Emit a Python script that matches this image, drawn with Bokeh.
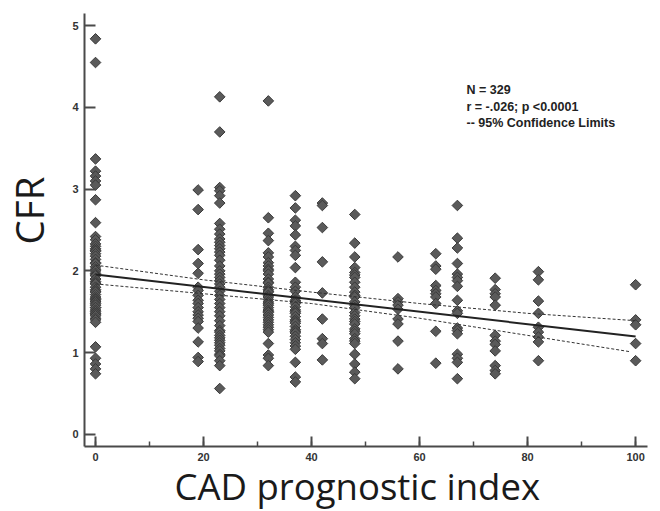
import math
from bokeh.plotting import figure
from bokeh.models import Range1d, SingleIntervalTicker, Label, ColumnDataSource, Title
from bokeh.embed import file_html
from bokeh.resources import INLINE

# ---- data ----
col_x = [0, 19, 23, 32, 37, 42, 48, 56, 63, 67, 74, 82, 100]
cfr_0 = [4.84, 4.55, 3.37, 3.22, 3.16, 3.10, 3.05, 2.87, 2.59, 2.42, 2.38, 2.33, 2.30, 2.27,
         2.25, 2.24, 2.21, 2.18, 2.14, 2.10, 2.09, 2.05, 2.02, 2.00, 1.97, 1.95, 1.94, 1.90,
         1.90, 1.87, 1.85, 1.84, 1.80, 1.77, 1.75, 1.74, 1.71, 1.68, 1.66, 1.65, 1.63, 1.62,
         1.60, 1.58, 1.55, 1.55, 1.52, 1.50, 1.48, 1.47, 1.45, 1.42, 1.40, 1.37, 1.07, 0.93,
         0.86, 0.80, 0.74]
cfr_19 = [2.99, 2.75, 2.26, 2.09, 1.97, 1.80, 1.76, 1.70, 1.64, 1.60, 1.55, 1.50, 1.46,
          1.42, 1.38, 1.30, 1.13, 0.94, 0.89]
cfr_23 = [4.13, 3.70, 3.02, 2.98, 2.92, 2.83, 2.58, 2.51, 2.45, 2.39, 2.35, 2.31, 2.27, 2.23,
          2.19, 2.13, 2.06, 2.00, 1.96, 1.92, 1.88, 1.84, 1.80, 1.75, 1.70, 1.65, 1.60, 1.55,
          1.50, 1.45, 1.39, 1.33, 1.27, 1.25, 1.21, 1.18, 1.15, 1.12, 1.09, 1.05, 1.02, 0.98,
          0.96, 0.90, 0.84, 0.56]
cfr_32 = [4.08, 2.65, 2.46, 2.37, 2.22, 2.17, 2.10, 2.06, 2.02, 2.00, 1.96, 1.90, 1.86, 1.85,
          1.80, 1.77, 1.75, 1.74, 1.70, 1.68, 1.65, 1.62, 1.60, 1.58, 1.55, 1.52, 1.50, 1.49,
          1.46, 1.43, 1.40, 1.37, 1.34, 1.31, 1.28, 1.25, 1.11, 0.97, 0.93, 0.84]
cfr_37 = [2.92, 2.77, 2.62, 2.55, 2.44, 2.30, 2.25, 2.19, 2.04, 1.86, 1.80, 1.75, 1.68, 1.64,
          1.62, 1.60, 1.56, 1.52, 1.50, 1.48, 1.44, 1.40, 1.38, 1.36, 1.32, 1.28, 1.26, 1.24,
          1.20, 1.16, 1.12, 1.08, 1.04, 0.88, 0.70, 0.64]
cfr_42 = [2.83, 2.80, 2.53, 2.11, 1.73, 1.41, 1.17, 1.11, 0.91]
cfr_48 = [2.69, 2.34, 2.17, 2.04, 1.98, 1.95, 1.92, 1.86, 1.80, 1.74, 1.70, 1.68, 1.62, 1.58,
          1.55, 1.49, 1.45, 1.41, 1.38, 1.35, 1.29, 1.26, 1.23, 1.17, 1.14, 1.11, 0.98, 0.86,
          0.76, 0.68]
cfr_56 = [2.17, 1.66, 1.62, 1.58, 1.53, 1.41, 1.35, 1.14, 0.80]
cfr_63 = [2.21, 2.06, 2.02, 1.82, 1.76, 1.72, 1.68, 1.60, 1.26, 0.87]
cfr_67 = [2.80, 2.40, 2.28, 2.09, 1.96, 1.92, 1.88, 1.81, 1.64, 1.51, 1.48, 1.30, 1.27, 1.23,
          0.98, 0.93, 0.88, 0.68]
cfr_74 = [1.91, 1.77, 1.72, 1.68, 1.58, 1.21, 1.14, 1.10, 1.02, 0.84, 0.78, 0.74]
cfr_82 = [1.99, 1.89, 1.63, 1.48, 1.31, 1.25, 1.19, 1.13, 0.90]
cfr_100 = [1.83, 1.40, 1.34, 1.11, 0.90]
columns = [cfr_0, cfr_19, cfr_23, cfr_32, cfr_37, cfr_42, cfr_48, cfr_56, cfr_63,
           cfr_67, cfr_74, cfr_82, cfr_100]

fit_x = [0, 100]
fit_y = [1.955, 1.196]
ci_upper_x = [0, 20, 40, 60, 80, 100]
ci_upper_y = [2.07, 1.89, 1.74, 1.60, 1.48, 1.39]
ci_lower_x = [0, 20, 40, 60, 80, 99]
ci_lower_y = [1.84, 1.72, 1.60, 1.42, 1.21, 1.01]

x_ticks_interval = 20
y_ticks_interval = 1
stats_lines = ["N = 329", "r = -.026; p <0.0001", "-- 95% Confidence Limits"]
x_title = "CAD prognostic index"
y_title = "CFR"

# ---- build points ----
px, py = [], []
for xv, vals in zip(col_x, columns):
    for v in vals:
        px.append(xv)
        py.append(v)
src = ColumnDataSource(dict(x=px, y=py))

p = figure(width=660, height=511, output_backend="svg", toolbar_location=None,
           x_range=Range1d(-2.04, 102.2), y_range=Range1d(-0.15, 5.15),
           min_border_left=84, min_border_right=13, min_border_top=13, min_border_bottom=65)
p.grid.visible = False
p.outline_line_color = None
p.background_fill_color = "white"
p.border_fill_color = "white"

AX = "#4a4a4a"
for ax in (p.xaxis[0], p.yaxis[0]):
    ax.axis_line_color = AX
    ax.axis_line_width = 2
    ax.major_tick_line_color = AX
    ax.major_tick_line_width = 2
    ax.minor_tick_line_color = AX
    ax.minor_tick_line_width = 1.5
    ax.major_tick_out = 0
    ax.minor_tick_out = 0
    ax.major_label_text_font = "Liberation Sans"
    ax.major_label_text_font_style = "bold"
    ax.major_label_text_font_size = "11px"
    ax.major_label_text_color = "#333333"

p.xaxis.ticker = SingleIntervalTicker(interval=x_ticks_interval, num_minor_ticks=2)
p.xaxis.major_tick_in = 10
p.xaxis.minor_tick_in = 5
p.xaxis.major_label_standoff = 6
p.yaxis.ticker = SingleIntervalTicker(interval=y_ticks_interval, num_minor_ticks=0)
p.yaxis.major_tick_in = 11
p.yaxis.major_label_standoff = 6

p.scatter("x", "y", source=src, marker="square", size=7.5, angle=math.pi / 4,
          fill_color="#5a5a5a", line_color="#3a3a3a", line_width=1)

p.line(fit_x, fit_y, line_color="#222222", line_width=2)
p.line(ci_upper_x, ci_upper_y, line_color="#333333", line_width=1, line_dash="3 2")
p.line(ci_lower_x, ci_lower_y, line_color="#333333", line_width=1, line_dash="3 2")

# stats text
for i, t in enumerate(stats_lines):
    p.add_layout(Label(x=382, y=356.6 - 16.6 * i, x_units="screen", y_units="screen",
                       text=t, text_font="Liberation Sans", text_font_style="bold",
                       text_font_size="12.5px", text_color="#222222",
                       text_align="left", text_baseline="alphabetic"))

# axis titles
p.add_layout(Title(text=x_title, align="left", offset=90, vertical_align="bottom", standoff=-10,
                   text_font="Open Sans", text_font_style="normal", text_font_size="36.5px",
                   text_color="#1a1a1a"), "below")
p.add_layout(Label(x=11.5, y=236, x_units="screen", y_units="screen", text=y_title,
                   angle=math.pi / 2, text_font="Open Sans", text_font_size="38.5px",
                   text_color="#1a1a1a", text_align="center", text_baseline="alphabetic"),
             "left")

open("out.html", "w").write(file_html(p, INLINE))
